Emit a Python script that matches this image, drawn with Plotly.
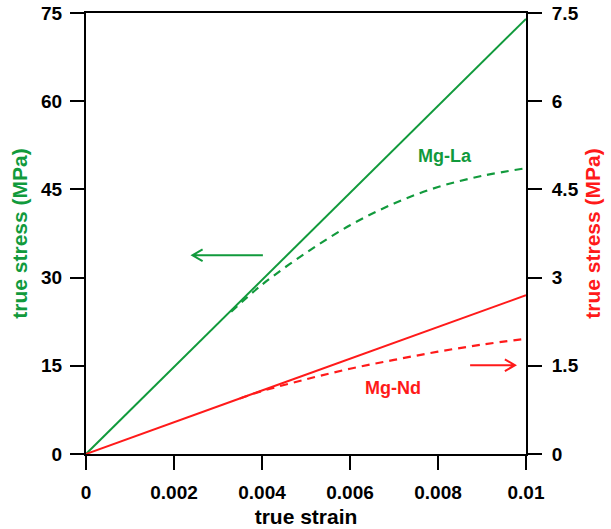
import plotly.graph_objects as go

GREEN = "#119a3c"
RED = "#ff1a1a"

# Mg-La (left axis, MPa)
la_elastic_strain = [0.0, 0.01]
la_elastic_stress = [0.0, 74.0]
la_strain = [0.0033, 0.004, 0.005, 0.006, 0.007, 0.008, 0.009, 0.01]
la_stress = [24.2, 28.8, 34.2, 38.9, 42.6, 45.4, 47.3, 48.6]

# Mg-Nd (right axis, MPa)
nd_elastic_strain = [0.0, 0.01]
nd_elastic_stress = [0.0, 2.7]
nd_strain = [0.0035, 0.004, 0.005, 0.006, 0.007, 0.008, 0.009, 0.01]
nd_stress = [0.945, 1.07, 1.27, 1.45, 1.60, 1.74, 1.86, 1.96]

x_ticks = [0, 0.002, 0.004, 0.006, 0.008, 0.01]
x_ticktext = ["0", "0.002", "0.004", "0.006", "0.008", "0.01"]
y1_ticks = [0, 15, 30, 45, 60, 75]
y2_ticks = [0, 1.5, 3, 4.5, 6, 7.5]
y2_ticktext = ["0", "1.5", "3", "4.5", "6", "7.5"]

FONT = "Liberation Sans, Arial, sans-serif"
tickfont = dict(family=FONT, size=19, color="black", weight="bold")
MAJOR = dict(ticks="outside", ticklen=14, tickwidth=2, tickcolor="black",
             showgrid=False, zeroline=False, automargin=False)
MINOR = dict(ticks="outside", ticklen=8, tickwidth=2, tickcolor="black",
             showgrid=False, zeroline=False, automargin=False,
             showticklabels=False, showline=False)


def minor_vals(major):
    # midpoints between consecutive major ticks
    return [(a + b) / 2 for a, b in zip(major[:-1], major[1:])]


fig = go.Figure()
fig.add_trace(go.Scatter(x=la_elastic_strain, y=la_elastic_stress, mode="lines",
                         line=dict(color=GREEN, width=2), xaxis="x", yaxis="y"))
fig.add_trace(go.Scatter(x=la_strain, y=la_stress, mode="lines", line_shape="spline",
                         line=dict(color=GREEN, width=2.2, dash="8px,6px"), xaxis="x", yaxis="y"))
fig.add_trace(go.Scatter(x=nd_elastic_strain, y=nd_elastic_stress, mode="lines",
                         line=dict(color=RED, width=2), xaxis="x", yaxis="y2"))
fig.add_trace(go.Scatter(x=nd_strain, y=nd_stress, mode="lines", line_shape="spline",
                         line=dict(color=RED, width=2.2, dash="8px,6px"), xaxis="x", yaxis="y2"))

# direction arrows with open V heads
fig.add_shape(type="path", xref="x", yref="y", line=dict(color=GREEN, width=2),
              path="M 0.00402 33.8 L 0.00242 33.8 M 0.00265 34.8 L 0.00242 33.8 L 0.00265 32.8")
fig.add_shape(type="path", xref="x", yref="y2", line=dict(color=RED, width=2),
              path="M 0.00873 1.51 L 0.00975 1.51 M 0.00952 1.61 L 0.00975 1.51 L 0.00952 1.41")

fig.add_annotation(x=0.00815, y=50.7, xref="x", yref="y", text="Mg-La", showarrow=False,
                   font=dict(family=FONT, size=18, color=GREEN, weight="bold"))
fig.add_annotation(x=0.00698, y=1.13, xref="x", yref="y2", text="Mg-Nd", showarrow=False,
                   font=dict(family=FONT, size=18, color=RED, weight="bold"))

fig.update_layout(
    width=611, height=529,
    margin=dict(l=86, r=85, t=13, b=75),
    paper_bgcolor="white", plot_bgcolor="white",
    showlegend=False,
    xaxis=dict(range=[0, 0.01], tickmode="array", tickvals=x_ticks, ticktext=x_ticktext,
               showline=True, linecolor="black", linewidth=2, mirror=True,
               ticklabelstandoff=6, tickfont=tickfont, **MAJOR,
               title=dict(text="true strain", font=dict(family=FONT, size=21, color="black", weight="bold"),
                          standoff=8)),
    yaxis=dict(range=[0, 75], tickmode="array", tickvals=y1_ticks,
               showline=True, linecolor="black", linewidth=2,
               ticklabelstandoff=4, tickfont=tickfont, **MAJOR,
               title=dict(text="true stress (MPa)", font=dict(family=FONT, size=21, color=GREEN, weight="bold"),
                          standoff=8)),
    yaxis2=dict(range=[0, 7.5], tickmode="array", tickvals=y2_ticks, ticktext=y2_ticktext,
                overlaying="y", side="right",
                showline=True, linecolor="black", linewidth=2,
                ticklabelstandoff=6, tickfont=tickfont, **MAJOR,
                title=dict(text="true stress (MPa)", font=dict(family=FONT, size=21, color=RED, weight="bold"),
                           standoff=8)),
    # companion axes carrying the shorter intermediate ticks
    xaxis2=dict(range=[0, 0.01], overlaying="x", anchor="y", side="bottom",
                tickmode="array", tickvals=minor_vals(x_ticks), **MINOR),
    yaxis3=dict(range=[0, 75], overlaying="y", anchor="x", side="left",
                tickmode="array", tickvals=minor_vals(y1_ticks), **MINOR),
    yaxis4=dict(range=[0, 7.5], overlaying="y", anchor="x", side="right",
                tickmode="array", tickvals=minor_vals(y2_ticks), **MINOR),
)

fig.write_html("out.html")
